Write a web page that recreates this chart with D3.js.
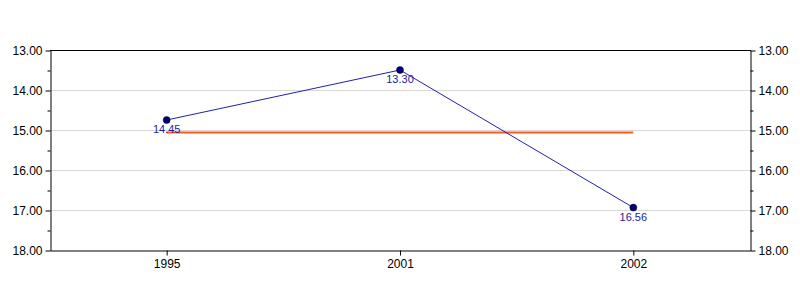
<!DOCTYPE html>
<html>
<head>
	<meta charset="UTF-8">
	<title>line chart</title>
	<script src="https://cdn.jsdelivr.net/npm/d3@7"></script>
	<style>
		body { margin: 0; background: #fff; }
		text { font-family: "Liberation Sans", Arial, sans-serif; }
	</style>
</head>
<body>
	<div id="chart"></div>
</body>
<script>
var years = ["1995", "2001", "2002"];
var values = [14.75, 13.5, 16.94];            // plotted position
var valueLabels = ["14.45", "13.30", "16.56"]; // printed next to each point
var avgValue = 15.06;
var yTicks = [13, 14, 15, 16, 17, 18];
var yMinorTicks = [13.5, 14.5, 15.5, 16.5, 17.5];

window.onload = function(){
	var W = 800, H = 300;
	var left = 50, right = 750, top = 50, bottom = 250;

	var svg = d3.select("#chart").append("svg")
		.attr("width", W)
		.attr("height", H);

	var xScale = d3.scalePoint()
		.domain(years)
		.range([left, right])
		.padding(0.5);

	var yScale = d3.scaleLinear()
		.domain([13, 18])
		.range([top, bottom]);

	// grid lines
	svg.append("g").selectAll("line")
		.data(yTicks.slice(1, -1))
		.enter().append("line")
		.attr("x1", left).attr("x2", right)
		.attr("y1", function(d){ return yScale(d) + 0.5; })
		.attr("y2", function(d){ return yScale(d) + 0.5; })
		.attr("stroke", "#d9d9d9");

	// top border
	svg.append("line")
		.attr("x1", left).attr("x2", right + 1)
		.attr("y1", top + 0.5).attr("y2", top + 0.5)
		.attr("stroke", "#000");

	// axes
	var fmt = d3.format(".2f");
	var yLeft = d3.axisLeft(yScale).tickValues(yTicks).tickFormat(fmt).tickSize(5).tickSizeOuter(0).tickPadding(3);
	var yRight = d3.axisRight(yScale).tickValues(yTicks).tickFormat(fmt).tickSize(5).tickSizeOuter(0).tickPadding(3);
	var xAxis = d3.axisBottom(xScale).tickSize(5).tickSizeOuter(0).tickPadding(4);

	function styleAxis(g){
		g.attr("font-size", 12).attr("font-family", "'Liberation Sans', Arial, sans-serif");
		g.select(".domain").attr("stroke", "#000");
		g.selectAll(".tick line").attr("stroke", "#000");
		g.selectAll("text").attr("fill", "#000");
	}

	svg.append("g").attr("transform", "translate(" + (left + 0.5) + ",0.5)").call(yLeft).call(styleAxis);
	svg.append("g").attr("transform", "translate(" + (right + 0.5) + ",0.5)").call(yRight).call(styleAxis);
	svg.append("g").attr("transform", "translate(0," + (bottom + 0.5) + ")").call(xAxis).call(styleAxis);

	// minor ticks
	svg.append("g").attr("transform", "translate(" + (left + 0.5) + ",0.5)")
		.call(d3.axisLeft(yScale).tickValues(yMinorTicks).tickFormat("").tickSize(3))
		.call(function(g){ g.select(".domain").remove(); g.selectAll("line").attr("stroke", "#000"); });
	svg.append("g").attr("transform", "translate(" + (right + 0.5) + ",0.5)")
		.call(d3.axisRight(yScale).tickValues(yMinorTicks).tickFormat("").tickSize(3))
		.call(function(g){ g.select(".domain").remove(); g.selectAll("line").attr("stroke", "#000"); });

	// average line
	svg.append("line")
		.attr("x1", xScale(years[0]))
		.attr("x2", xScale(years[years.length - 1]))
		.attr("y1", yScale(avgValue))
		.attr("y2", yScale(avgValue))
		.attr("stroke", "#ff5a1e")
		.attr("stroke-width", 2);

	// series line
	var line = d3.line()
		.x(function(d, i){ return xScale(years[i]); })
		.y(function(d){ return yScale(d); });

	svg.append("path")
		.datum(values)
		.attr("d", line)
		.attr("fill", "none")
		.attr("stroke", "#1f1fb0")
		.attr("stroke-width", 1);

	svg.selectAll("circle")
		.data(values)
		.enter().append("circle")
		.attr("cx", function(d, i){ return xScale(years[i]); })
		.attr("cy", function(d){ return yScale(d); })
		.attr("r", 3.5)
		.attr("fill", "#000070")
		.attr("stroke", "#000040")
		.attr("stroke-width", 0.5);

	svg.selectAll("text.vlabel")
		.data(values)
		.enter().append("text")
		.attr("class", "vlabel")
		.attr("x", function(d, i){ return xScale(years[i]); })
		.attr("y", function(d){ return yScale(d) + 13; })
		.attr("text-anchor", "middle")
		.attr("fill", "#1c1c9c")
		.style("font-size", "11px")
		.text(function(d, i){ return valueLabels[i]; });
};
</script>
</html>
